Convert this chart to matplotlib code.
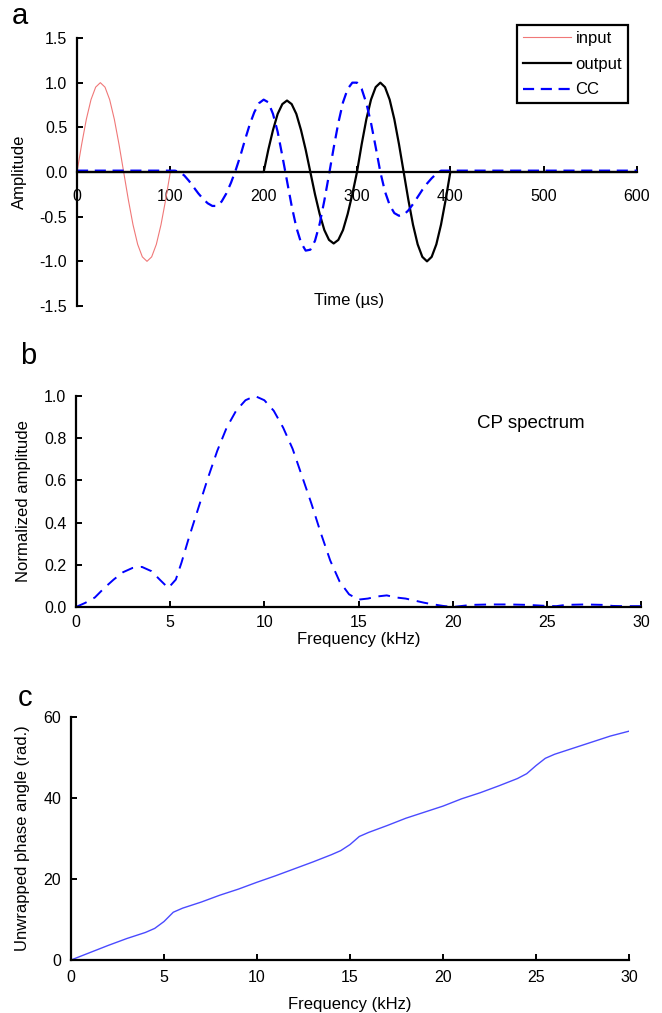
import matplotlib
matplotlib.use("Agg")
import matplotlib.pyplot as plt
import numpy as np

plt.rcParams['font.family'] = ['Liberation Sans', 'DejaVu Sans']

# ---------------- data ----------------
# Panel a: time (µs) and amplitudes
input_time = [0, 5, 10, 15, 20, 25, 30, 35, 40, 45, 50, 55, 60, 65, 70, 75, 80, 85, 90, 95, 100]
input_amp = [0.0, 0.31, 0.59, 0.81, 0.95, 1.0, 0.95, 0.81, 0.59, 0.31, 0.0,
             -0.31, -0.59, -0.81, -0.95, -1.0, -0.95, -0.81, -0.59, -0.31, 0.0]

output_time = [0, 200, 205, 210, 215, 220, 225, 230, 235, 240, 245, 250, 255, 260, 265, 270, 275, 280,
               285, 290, 295, 300, 305, 310, 315, 320, 325, 330, 335, 340, 345, 350, 355, 360,
               365, 370, 375, 380, 385, 390, 395, 400, 600]
output_amp = [0.0, 0.0, 0.25, 0.47, 0.65, 0.76, 0.80, 0.76, 0.65, 0.47, 0.25, 0.0, -0.25, -0.47, -0.65,
              -0.76, -0.80, -0.76, -0.65, -0.47, -0.25, 0.0, 0.31, 0.59, 0.81, 0.95, 1.0, 0.95, 0.81,
              0.59, 0.31, 0.0, -0.31, -0.59, -0.81, -0.95, -1.0, -0.95, -0.81, -0.59, -0.31, 0.0, 0.0]

cc_time = [0, 105, 110, 115, 120, 125, 130, 135, 140, 145, 150, 155, 160, 165, 170, 175, 180, 185,
           190, 195, 200, 205, 210, 215, 220, 225, 230, 235, 240, 245, 250, 255, 260, 265, 270,
           275, 280, 285, 290, 295, 300, 305, 310, 315, 320, 325, 330, 335, 340, 345, 350, 355,
           360, 365, 370, 375, 380, 385, 390, 600]
cc_amp = [0.015, 0.015, 0.0, -0.04, -0.10, -0.17, -0.24, -0.30, -0.35, -0.38, -0.38, -0.33, -0.24,
          -0.12, 0.02, 0.18, 0.36, 0.53, 0.67, 0.77, 0.81, 0.78, 0.65, 0.45, 0.18, -0.10, -0.38,
          -0.62, -0.79, -0.88, -0.87, -0.77, -0.58, -0.32, -0.03, 0.27, 0.55, 0.78, 0.93, 1.0,
          1.0, 0.93, 0.77, 0.55, 0.28, 0.0, -0.22, -0.37, -0.46, -0.49, -0.48, -0.43, -0.36,
          -0.28, -0.20, -0.13, -0.07, -0.02, 0.015, 0.015]

# Panel b: CP spectrum
spec_freq = [0, 0.5, 1, 1.5, 2, 2.5, 3, 3.5, 4, 4.5, 4.9, 5.3, 5.6, 6, 6.5, 7, 7.5, 8, 8.5, 9, 9.5,
             10, 10.5, 11, 11.5, 12, 12.5, 13, 13.5, 14, 14.5, 15, 15.5, 16, 16.5, 17, 17.5, 18,
             18.5, 19, 19.5, 20, 20.5, 21, 22, 23, 24, 25, 25.5, 26, 27, 28, 28.5, 29, 30]
spec_amp = [0.0, 0.02, 0.045, 0.09, 0.13, 0.165, 0.185, 0.19, 0.17, 0.125, 0.09, 0.13, 0.21, 0.33,
            0.47, 0.61, 0.74, 0.85, 0.93, 0.98, 1.0, 0.98, 0.93, 0.85, 0.75, 0.62, 0.49, 0.35,
            0.22, 0.12, 0.06, 0.035, 0.04, 0.05, 0.055, 0.045, 0.04, 0.03, 0.02, 0.012, 0.005,
            0.0, 0.005, 0.01, 0.012, 0.012, 0.01, 0.005, 0.004, 0.01, 0.012, 0.01, 0.005, 0.004, 0.004]

# Panel c: unwrapped phase
phase_freq = [0, 1, 2, 3, 4, 4.5, 5, 5.5, 6, 7, 8, 9, 10, 11, 12, 13, 14, 14.5, 15, 15.5, 16, 17,
              18, 19, 20, 21, 22, 23, 24, 24.5, 25, 25.5, 26, 27, 28, 29, 30]
phase_rad = [0, 1.8, 3.6, 5.3, 6.8, 7.8, 9.5, 11.8, 12.8, 14.3, 16.0, 17.5, 19.2, 20.8, 22.5, 24.2,
             26.0, 27.0, 28.5, 30.5, 31.5, 33.2, 35.0, 36.5, 38.0, 39.8, 41.3, 43.0, 44.8, 46.0,
             48.0, 49.8, 50.8, 52.3, 53.8, 55.3, 56.5]

# ---------------- figure ----------------
W, H = 662, 1013
fig = plt.figure(figsize=(W / 100, H / 100), dpi=100)

TICK_FS = 11.5
LABEL_FS = 12


def box(l, t, r, b):
    return [l / W, 1 - b / H, (r - l) / W, (b - t) / H]


def style(ax):
    for s in ['top', 'right']:
        ax.spines[s].set_visible(False)
    for s in ['left', 'bottom']:
        ax.spines[s].set_linewidth(1.6)
    ax.tick_params(direction='in', length=4, width=1.4, labelsize=TICK_FS, colors='black')
    ax.tick_params(axis='y', pad=7)


# ---- panel a ----
axa = fig.add_axes(box(77, 38, 637, 306))
style(axa)
axa.spines['bottom'].set_position(('data', 0))
axa.plot(input_time, input_amp, color='#f07878', lw=0.8, label='input')
axa.plot(output_time, output_amp, color='black', lw=1.6, label='output')
axa.plot(cc_time, cc_amp, color='#0000ff', lw=1.6, ls=(0, (5, 3)), label='CC')
axa.set_xlim(0, 600)
axa.set_ylim(-1.5, 1.5)
axa.set_xticks([0, 100, 200, 300, 400, 500, 600])
axa.set_yticks([-1.5, -1.0, -0.5, 0.0, 0.5, 1.0, 1.5])
axa.set_yticklabels(['-1.5', '-1.0', '-0.5', '0.0', '0.5', '1.0', '1.5'])
axa.tick_params(axis='x', pad=12)
axa.text(0.485, 0.02, 'Time (µs)', transform=axa.transAxes, ha='center', va='center', fontsize=LABEL_FS)
axa.set_ylabel('Amplitude', fontsize=LABEL_FS, labelpad=9)
leg = axa.legend(loc='upper right', bbox_to_anchor=(628 / W, 1 - 25 / H), bbox_transform=fig.transFigure,
                 fontsize=12, frameon=True, fancybox=False, framealpha=1, edgecolor='black',
                 handlelength=2.9, handletextpad=0.25, borderpad=0.35, labelspacing=0.65,
                 borderaxespad=0)
leg.get_frame().set_linewidth(1.6)
fig.text(20 / W, 1 - 16 / H, 'a', fontsize=21, ha='center', va='center')

# ---- panel b ----
axb = fig.add_axes(box(76, 396, 641, 607))
style(axb)
axb.plot(spec_freq, spec_amp, color='#0000ff', lw=1.4, ls=(0, (6, 4)))
axb.set_xlim(0, 30)
axb.set_ylim(0, 1.0)
axb.set_xticks([0, 5, 10, 15, 20, 25, 30])
axb.set_yticks([0, 0.2, 0.4, 0.6, 0.8, 1.0])
axb.set_yticklabels(['0.0', '0.2', '0.4', '0.6', '0.8', '1.0'])
axb.tick_params(axis='x', pad=6)
axb.set_xlabel('Frequency (kHz)', fontsize=LABEL_FS, labelpad=1)
axb.set_ylabel('Normalized amplitude', fontsize=LABEL_FS, labelpad=9)
axb.text(0.805, 0.87, 'CP spectrum', transform=axb.transAxes, ha='center', va='center', fontsize=13.5)
fig.text(28 / W, 1 - 356 / H, 'b', fontsize=21, ha='center', va='center')

# ---- panel c ----
axc = fig.add_axes(box(71, 717, 629, 960))
style(axc)
axc.plot(phase_freq, phase_rad, color='#4a4aff', lw=1.0)
axc.set_xlim(0, 30)
axc.set_ylim(0, 60)
axc.set_xticks([0, 5, 10, 15, 20, 25, 30])
axc.set_yticks([0, 20, 40, 60])
axc.tick_params(axis='x', pad=7)
axc.set_xlabel('Frequency (kHz)', fontsize=LABEL_FS, labelpad=9)
axc.set_ylabel('Unwrapped phase angle (rad.)', fontsize=LABEL_FS, labelpad=10)
fig.text(25 / W, 1 - 698 / H, 'c', fontsize=21, ha='center', va='center')

fig.savefig('out.png', dpi=100)
